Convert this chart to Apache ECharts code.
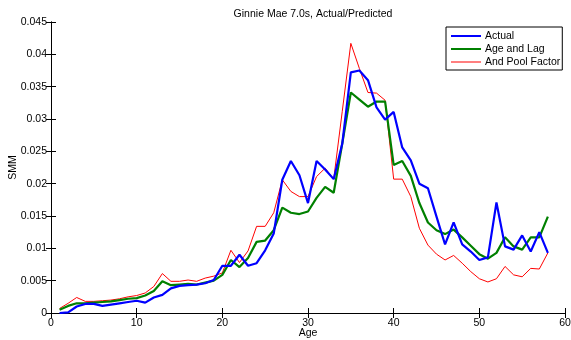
<!DOCTYPE html>
<html>
<head>
<meta charset="utf-8">
<script src="https://cdn.jsdelivr.net/npm/echarts@6/dist/echarts.min.js"></script>
<style>
  html, body { margin: 0; padding: 0; background: #fff; }
  #chart { width: 571px; height: 340px; }
</style>
</head>
<body>
<div id="chart"></div>
<script>
const ages = []
for (let a = 1; a <= 58; a++) ages.push(a)

const actual = [
  0.0000, 0.0001, 0.0010, 0.0014, 0.0014, 0.0011, 0.0013, 0.0015, 0.0017, 0.0019,
  0.0016, 0.0024, 0.0028, 0.0038, 0.0042, 0.0043, 0.0044, 0.0046, 0.0051, 0.0073,
  0.0073, 0.0090, 0.0073, 0.0077, 0.0097, 0.0123, 0.0206, 0.0235, 0.0213, 0.0170,
  0.0235, 0.0222, 0.0207, 0.0262, 0.0372, 0.0375, 0.0360, 0.0318, 0.0299, 0.0311,
  0.0256, 0.0236, 0.0200, 0.0193, 0.0149, 0.0106, 0.0140, 0.0106, 0.0095, 0.0082,
  0.0086, 0.0171, 0.0103, 0.0098, 0.0120, 0.0095, 0.0125, 0.0093
]

const ageAndLag = [
  0.0005, 0.0011, 0.0015, 0.0015, 0.0016, 0.0017, 0.0018, 0.0020, 0.0022, 0.0023,
  0.0027, 0.0034, 0.0049, 0.0043, 0.0044, 0.0045, 0.0044, 0.0047, 0.0050, 0.0059,
  0.0082, 0.0071, 0.0085, 0.0110, 0.0112, 0.0128, 0.0163, 0.0155, 0.0153, 0.0157,
  0.0178, 0.0195, 0.0186, 0.0262, 0.0341, 0.0330, 0.0319, 0.0327, 0.0327, 0.0229,
  0.0235, 0.0212, 0.0170, 0.0140, 0.0128, 0.0122, 0.0129, 0.0117, 0.0104, 0.0091,
  0.0084, 0.0093, 0.0117, 0.0103, 0.0098, 0.0117, 0.0117, 0.0149
]

const poolFactor = [
  0.0007, 0.0015, 0.0024, 0.0018, 0.0018, 0.0019, 0.0020, 0.0022, 0.0025, 0.0027,
  0.0031, 0.0041, 0.0061, 0.0049, 0.0049, 0.0051, 0.0049, 0.0054, 0.0057, 0.0062,
  0.0097, 0.0078, 0.0096, 0.0134, 0.0134, 0.0155, 0.0206, 0.0188, 0.0180, 0.0180,
  0.0211, 0.0224, 0.0207, 0.0312, 0.0417, 0.0378, 0.0341, 0.0340, 0.0329, 0.0207,
  0.0207, 0.0180, 0.0131, 0.0105, 0.0091, 0.0082, 0.0089, 0.0077, 0.0064, 0.0053,
  0.0048, 0.0053, 0.0072, 0.0059, 0.0056, 0.0069, 0.0068, 0.0093
]

const font = 'Liberation Sans, Arial, Helvetica, sans-serif'
const pairs = vals => ages.map((a, i) => [a, vals[i]])

// thick and thin legend strokes (outer slivers keep the box 2px tall)
const thickIcon = 'path://M0,0H30V2H0Z'
const thinIcon = 'path://M0,0H30V0.01H0Z M0,0.5H30V1.5H0Z M0,1.99H30V2H0Z'

const chart = echarts.init(document.getElementById('chart'))

const axisLine = { show: true, lineStyle: { color: '#000', width: 1 } }
const axisTick = { show: true, inside: true, length: 5, lineStyle: { color: '#000' } }

chart.setOption({
  animation: false,
  title: {
    text: 'Ginnie Mae 7.0s, Actual/Predicted',
    left: 308,
    textAlign: 'center',
    top: 4,
    textStyle: { fontFamily: font, fontSize: 10.5, fontWeight: 'normal', color: '#000' }
  },
  legend: {
    orient: 'vertical',
    left: 446,
    top: 27,
    itemWidth: 30,
    itemHeight: 2,
    itemGap: 1,
    padding: [3, 2, 2, 5],
    backgroundColor: '#fff',
    borderColor: '#000',
    borderWidth: 1,
    textStyle: { fontFamily: font, fontSize: 10.5, color: '#000', lineHeight: 12, padding: [0, 0, 0, -1] },
    data: [
      { name: 'Actual', icon: thickIcon },
      { name: 'Age and Lag', icon: thickIcon },
      { name: 'And Pool Factor', icon: thinIcon }
    ]
  },
  grid: { left: 51, right: 6, top: 22, bottom: 27, containLabel: false, outerBoundsMode: 'none' },
  xAxis: [
    {
      type: 'value',
      min: 0, max: 60, interval: 10,
      name: 'Age', nameLocation: 'middle', nameGap: 15, nameMoveOverlap: false,
      nameTextStyle: { fontFamily: font, fontSize: 10.5, color: '#000' },
      axisLine, axisTick,
      axisLabel: { fontFamily: font, fontSize: 10.5, color: '#000', margin: 5 },
      splitLine: { show: false }
    },
    {
      type: 'value', position: 'top',
      min: 0, max: 60, interval: 10,
      axisLine, axisTick,
      axisLabel: { show: false },
      splitLine: { show: false }
    }
  ],
  yAxis: [
    {
      type: 'value',
      min: 0, max: 0.045, interval: 0.005,
      name: 'SMM', nameLocation: 'middle', nameGap: 32, nameRotate: 90, nameMoveOverlap: false,
      nameTextStyle: { fontFamily: font, fontSize: 10.5, color: '#000' },
      axisLine, axisTick,
      axisLabel: { fontFamily: font, fontSize: 10.5, color: '#000', margin: 4 },
      splitLine: { show: false }
    },
    {
      type: 'value', position: 'right',
      min: 0, max: 0.045, interval: 0.005,
      axisLine, axisTick,
      axisLabel: { show: false },
      splitLine: { show: false }
    }
  ],
  series: [
    {
      name: 'Actual', type: 'line', data: pairs(actual),
      symbol: 'none', color: '#0000ff',
      lineStyle: { width: 2.2, color: '#0000ff' }, z: 3
    },
    {
      name: 'Age and Lag', type: 'line', data: pairs(ageAndLag),
      symbol: 'none', color: '#008000',
      lineStyle: { width: 2.2, color: '#008000' }, z: 2
    },
    {
      name: 'And Pool Factor', type: 'line', data: pairs(poolFactor),
      symbol: 'none', color: '#ff0000',
      lineStyle: { width: 1, color: '#ff0000' }, z: 1
    }
  ]
})
</script>
</body>
</html>
